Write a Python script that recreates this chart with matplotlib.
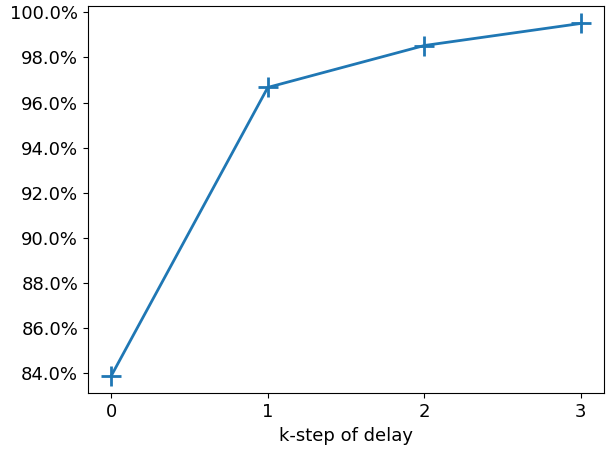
import matplotlib
matplotlib.use('Agg')
import matplotlib.pyplot as plt
from matplotlib.ticker import FuncFormatter

# k-step delay vs accuracy
steps=[0,1,2,3]
acc=[83.87,96.67,98.53,99.51]

plt.rcParams['font.size']=13
fig,ax=plt.subplots(figsize=(6.06,4.51),dpi=100)
ax.plot(steps,[a/100 for a in acc],marker='+',markersize=14,mew=2,lw=2,color='#1f77b4')
ax.set_xticks(steps)
ax.yaxis.set_major_formatter(FuncFormatter(lambda v,p:'%.1f%%'%(v*100)))
ax.set_xlabel('k-step of delay')
fig.subplots_adjust(left=0.145,right=0.997,top=0.987,bottom=0.128)
fig.savefig('out.png')
